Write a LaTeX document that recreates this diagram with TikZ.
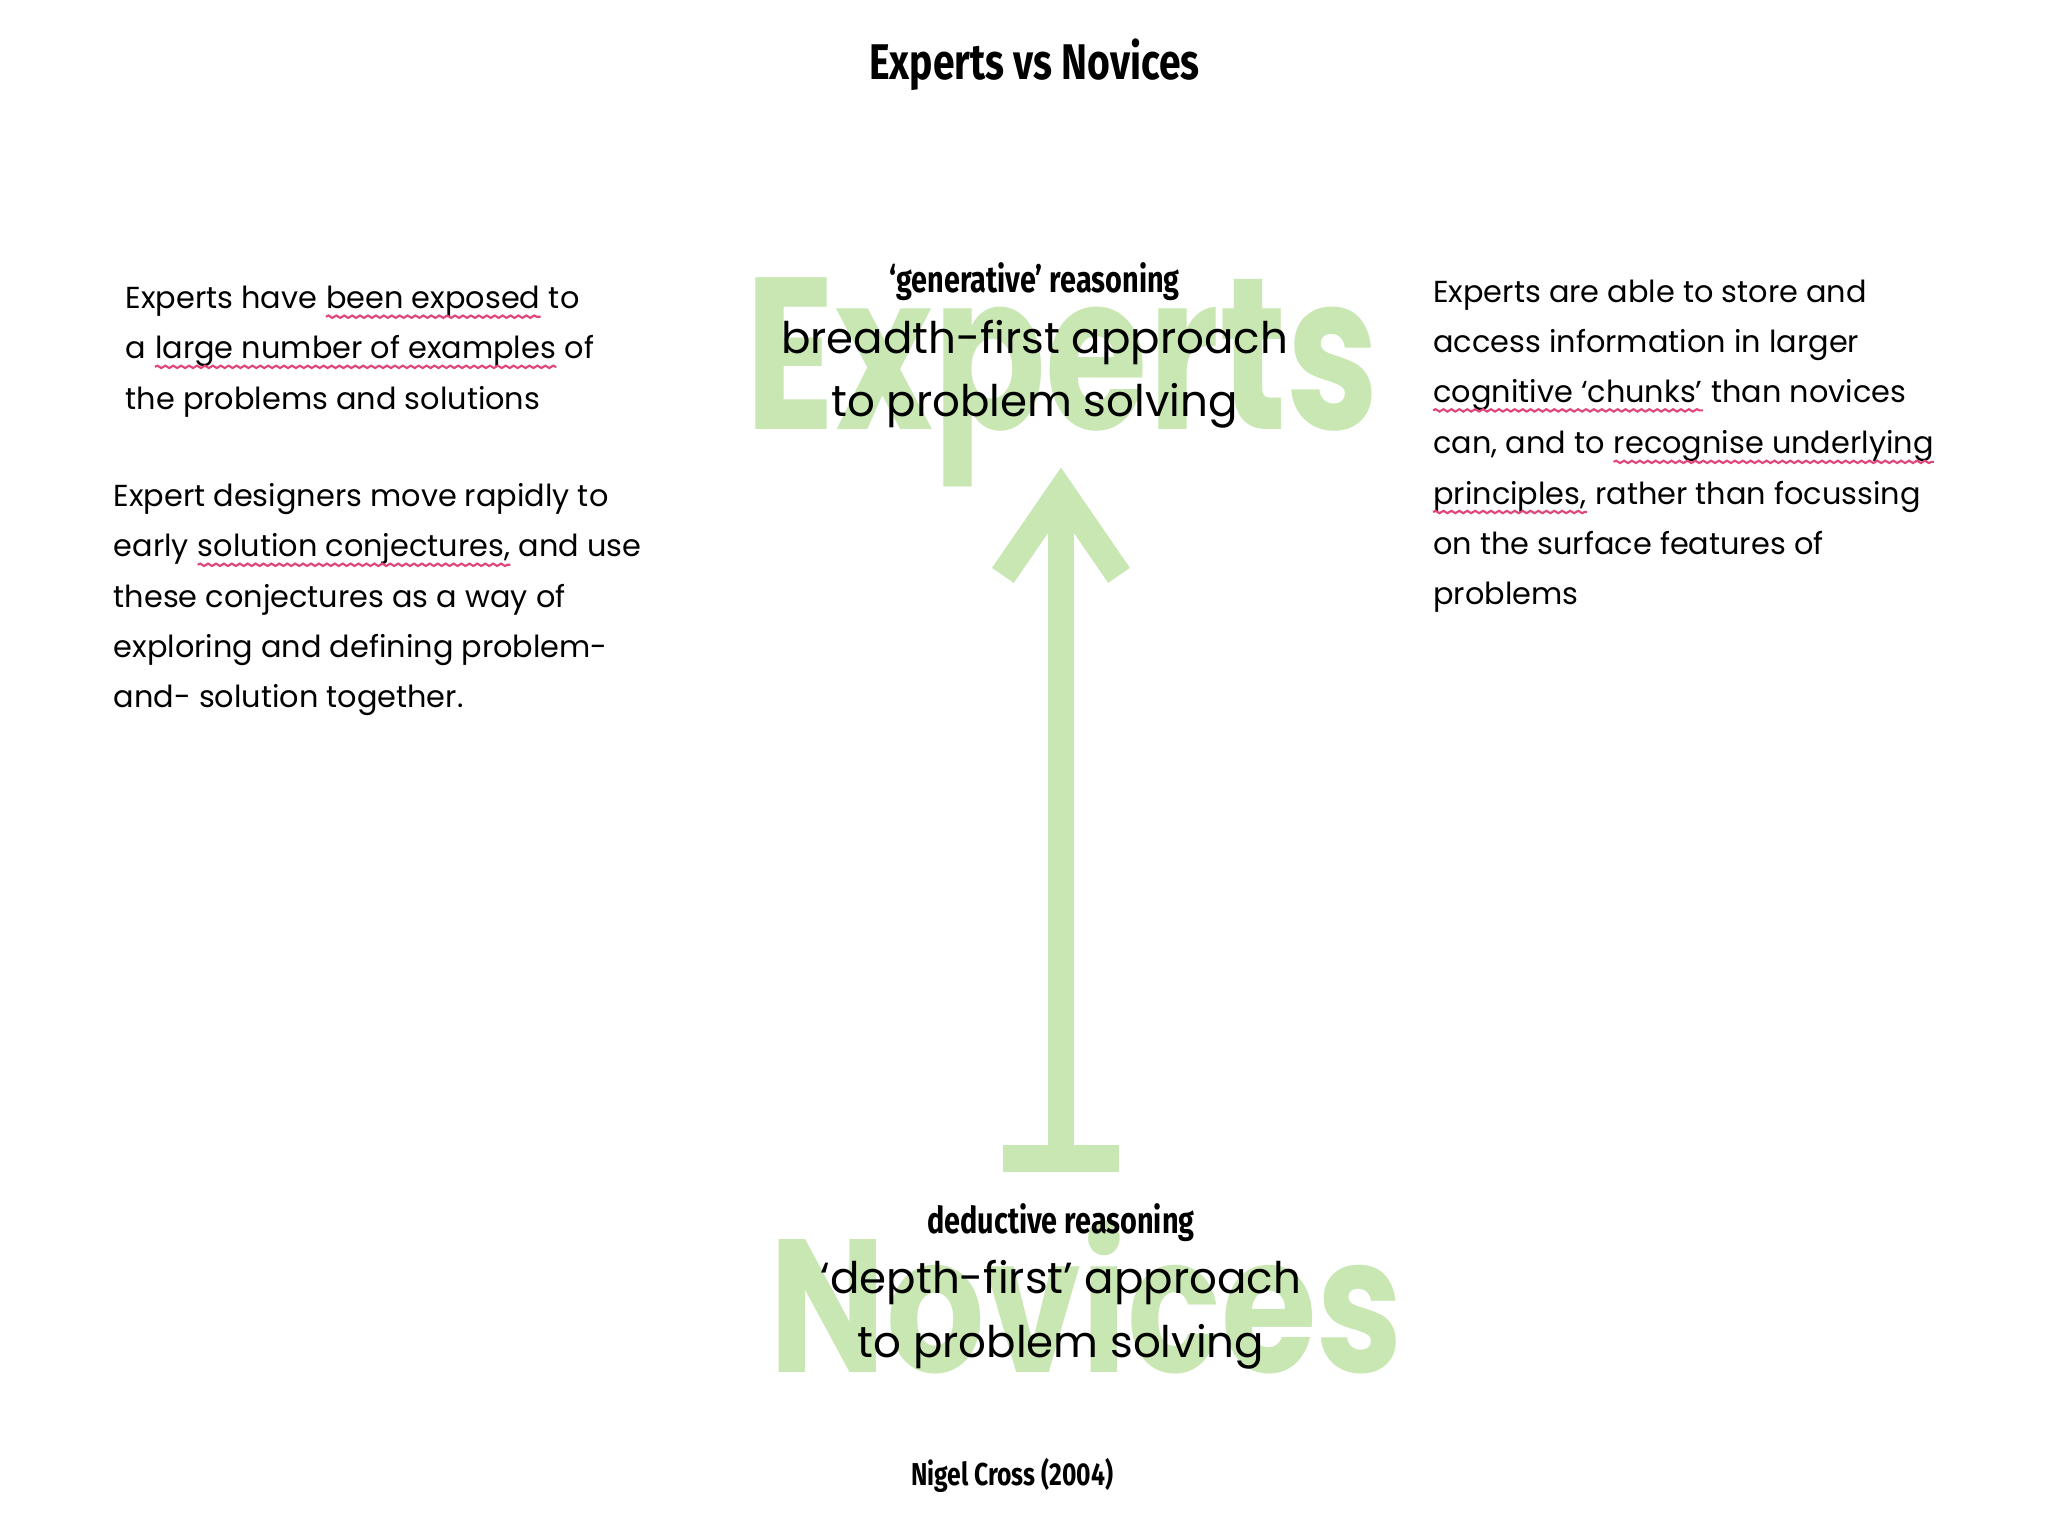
\documentclass[tikz,border=0pt]{standalone}
\usepackage{fontspec}
\setmainfont{Poppins}
\newfontfamily\condb[FakeStretch=0.78]{Fira Sans}
\usetikzlibrary{decorations.pathmorphing}
\definecolor{wm}{HTML}{C9E7B3}
\definecolor{pinkul}{HTML}{E0457B}
\tikzset{
 txt/.style={inner sep=0pt,anchor=base west,font=\fontsize{23}{30}\selectfont},
 big/.style={inner sep=0pt,anchor=base,font=\fontsize{33}{40}\selectfont},
 lab/.style={inner sep=0pt,anchor=base,font=\condb\bfseries\fontsize{28}{30}\selectfont},
 wave/.style={pinkul,line width=1.6pt,decorate,decoration={snake,amplitude=0.9pt,segment length=6pt}},
 arr/.style={wm,line width=20pt}
}
\newcommand{\ul}[1]{\draw[wave] ([yshift=-6pt]#1.base west) -- ([yshift=-6pt]#1.base east);}
\newcommand{\myspc}{\kern0.28em}
\begin{document}
\begin{tikzpicture}[x=1pt,y=-1pt]
\fill[white] (0,0) rectangle (1552,1164);
% watermarks
\node[inner sep=0,anchor=north west,text=wm] (wE) at (565,210) {\resizebox{480pt}{115pt}{\bfseries Experts}};
\node[inner sep=0,anchor=north west,text=wm] (wN) at (583,925) {\resizebox{480pt}{115pt}{\bfseries Novices}};
% arrow
\coordinate (aT) at (804,372);
\coordinate (aB) at (804,878);
\coordinate (bL) at (760,878);
\coordinate (bR) at (848,878);
\coordinate (hL) at (760,436);
\coordinate (hR) at (848,436);
\draw[arr] (aB) -- (aT);
\draw[arr] (bL) -- (bR);
\draw[arr,line join=miter] (hL) -- (aT) -- (hR);
% title
\node[inner sep=0,anchor=base,font=\condb\bfseries\fontsize{38}{40}\selectfont] (title) at (784,60) {Experts vs Novices};
\node[lab] (gen) at (784,222) {‘generative’ reasoning};
\node[big] (b1) at (784,268) {breadth-first approach};
\node[big] (b2) at (784,316) {to problem solving};
\node[lab] (ded) at (804,935) {deductive reasoning};
\node[big] (d1) at (804,980) {‘depth-first’ approach};
\node[big] (d2) at (804,1029) {to problem solving};
\node[inner sep=0,anchor=base,font=\condb\bfseries\fontsize{24}{26}\selectfont] (cite) at (767,1126) {Nigel Cross (2004)};
% left block 1
\node[txt] (l1a) at (95,234) {Experts have\myspc};
\node[txt] (l1b) at (l1a.base east) {been exposed};
\node[txt] (l1c) at (l1b.base east) {\ to};
\node[txt] (l2a) at (95,272) {a\myspc};
\node[txt] (l2b) at (l2a.base east) {large number of examples};
\node[txt] (l2c) at (l2b.base east) {\ of};
\node[txt] (l3) at (95,310) {the problems and solutions};
\ul{l1b}\ul{l2b}
% left block 2
\node[txt] (m1) at (86,384) {Expert designers move rapidly to};
\node[txt] (m2a) at (86,422) {early\myspc};
\node[txt] (m2b) at (m2a.base east) {solution conjectures,};
\node[txt] (m2c) at (m2b.base east) {\ and use};
\node[txt] (m3) at (86,460) {these conjectures as a way of};
\node[txt] (m4) at (86,498) {exploring and defining problem-};
\node[txt] (m5) at (86,536) {and- solution together.};
\ul{m2b}
% right block
\node[txt] (r1) at (1086,229) {Experts are able to store and};
\node[txt] (r2) at (1086,267) {access information in larger};
\node[txt] (r3a) at (1086,305) {cognitive ‘chunks’};
\node[txt] (r3b) at (r3a.base east) {\ than novices};
\node[txt] (r4a) at (1086,344) {can, and to\myspc};
\node[txt] (r4b) at (r4a.base east) {recognise underlying};
\node[txt] (r5a) at (1086,382) {principles,};
\node[txt] (r5b) at (r5a.base east) {\ rather than focussing};
\node[txt] (r6) at (1086,420) {on the surface features of};
\node[txt] (r7) at (1086,458) {problems};
\ul{r3a}\ul{r4b}\ul{r5a}
\end{tikzpicture}
\end{document}
